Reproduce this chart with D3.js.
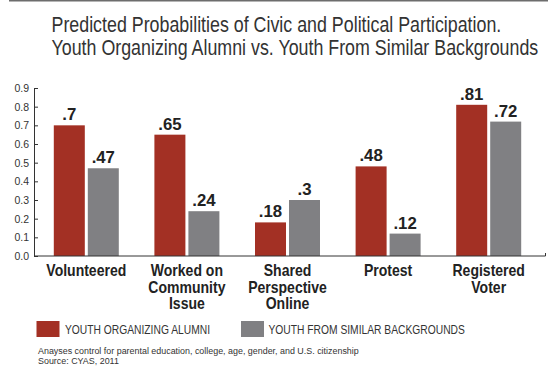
<!DOCTYPE html>
<html><head><meta charset="utf-8">
<script src="https://cdn.jsdelivr.net/npm/d3@7"></script>
<style>
body{margin:0;background:#fff;}
svg{display:block;}
</style></head>
<body><svg id="c" width="548" height="367"></svg>
<script>
const categories = [["Volunteered"],["Worked on","Community","Issue"],["Shared","Perspective","Online"],["Protest"],["Registered","Voter"]];
const alumni = [0.7, 0.65, 0.18, 0.48, 0.81];
const similar = [0.47, 0.24, 0.3, 0.12, 0.72];
const alumniLabels = [".7", ".65", ".18", ".48", ".81"];
const similarLabels = [".47", ".24", ".3", ".12", ".72"];
const yTicks = [0,0.1,0.2,0.3,0.4,0.5,0.6,0.7,0.8,0.9];
const seriesNames = ["YOUTH ORGANIZING ALUMNI","YOUTH FROM SIMILAR BACKGROUNDS"];
const titleLines = ["Predicted Probabilities of Civic and Political Participation.","Youth Organizing Alumni vs. Youth From Similar Backgrounds"];
const notes = ["Anayses control for parental education, college, age, gender, and U.S. citizenship","Source: CYAS, 2011"];
const colors = ["#A33024","#808083"];
const font = '"Liberation Sans",Arial,sans-serif';

const svg = d3.select("#c");

// horizontal condensing helper: scale text around anchor x
function squeeze(sel, s, ax){
  sel.attr("transform", `translate(${ax},0) scale(${s},1) translate(${-ax},0)`);
}
function factor(node, target){ return target / node.getComputedTextLength(); }

// top rule
svg.append("line").attr("x1",9).attr("x2",548).attr("y1",0.5).attr("y2",0.5).attr("stroke","#6d6d6d").attr("stroke-width",2);

// title
const tt = svg.append("g").selectAll("text").data(titleLines).join("text")
  .attr("x",51.5).attr("y",(d,i)=>32.5+i*23)
  .attr("font-family",font).attr("font-size",22).attr("fill","#333")
  .text(d=>d);
const sT = factor(tt.nodes()[1], 487);
tt.each(function(){ squeeze(d3.select(this), sT, 51.5); });

const x = d3.scaleBand().domain(d3.range(categories.length)).range([36,539]);
const y = d3.scaleLinear().domain([0,0.9]).range([256,88]);
const barW = 31, gap = 1.5;

// y axis
const yAxis = d3.axisLeft(y).tickValues(yTicks).tickFormat(d3.format(".1f")).tickSizeInner(-4).tickSizeOuter(0).tickPadding(5);
const ga = svg.append("g").attr("transform","translate(34,0)").call(yAxis);
ga.select(".domain").attr("stroke","#333");
ga.selectAll(".tick line").attr("stroke","#333");
ga.selectAll(".tick text").attr("font-family",font).attr("font-size",10.5).attr("fill","#333");

// bars
const g = svg.append("g");
const valTexts = [], catTexts = [];
categories.forEach((c,i)=>{
  const cx = x(i) + x.bandwidth()/2;
  [[alumni,alumniLabels,0],[similar,similarLabels,1]].forEach(([vals,labs,k])=>{
    const x0 = k===0 ? cx-gap-barW : cx+gap;
    g.append("rect").attr("x",x0).attr("y",y(vals[i])).attr("width",barW).attr("height",y(0)-y(vals[i])).attr("fill",colors[k]);
    const t = g.append("text").attr("x",x0+barW/2).attr("y",y(vals[i])-5).attr("text-anchor","middle")
      .attr("font-family",font).attr("font-weight","bold").attr("font-size",17).attr("fill","#222").text(labs[i]);
    valTexts.push([t, x0+barW/2]);
  });
  const t = g.append("text").attr("x",cx).attr("y",276.5).attr("text-anchor","middle")
    .attr("font-family",font).attr("font-weight","bold").attr("font-size",16.5).attr("fill","#222");
  c.forEach((line,j)=>t.append("tspan").attr("x",cx).attr("y",276.5+j*16.3).text(line));
  catTexts.push([t, cx]);
});
const sV = factor(valTexts[2][0].node(), 23.3);
valTexts.forEach(([t,ax])=>squeeze(t, sV, ax));
const sC = factor(catTexts[0][0].node(), 80);
catTexts.forEach(([t,ax])=>squeeze(t, sC, ax));

// x axis line
svg.append("path").attr("d",`M34,${y(0)}H545.5V${y(0)-3}`).attr("fill","none").attr("stroke","#333").attr("stroke-width",1);

// legend
const leg = [[36.5,65],[241,268.5]];
const legTexts = [];
seriesNames.forEach((s,i)=>{
  svg.append("rect").attr("x",leg[i][0]).attr("y",321).attr("width",23).attr("height",16).attr("fill",colors[i]);
  const t = svg.append("text").attr("x",leg[i][1]).attr("y",334).attr("font-family",font).attr("font-size",12.5).attr("fill","#333").text(s);
  legTexts.push([t, leg[i][1]]);
});
const sL = factor(legTexts[1][0].node(), 196.5);
legTexts.forEach(([t,ax])=>squeeze(t, sL, ax));

// notes
const nt = svg.append("g").selectAll("text").data(notes).join("text")
  .attr("x",38).attr("y",(d,i)=>354+i*10)
  .attr("font-family",font).attr("font-size",9.5).attr("fill","#333").text(d=>d);
const sN = factor(nt.nodes()[0], 321);
nt.each(function(){ squeeze(d3.select(this), sN, 38); });
</script>
</body></html>
